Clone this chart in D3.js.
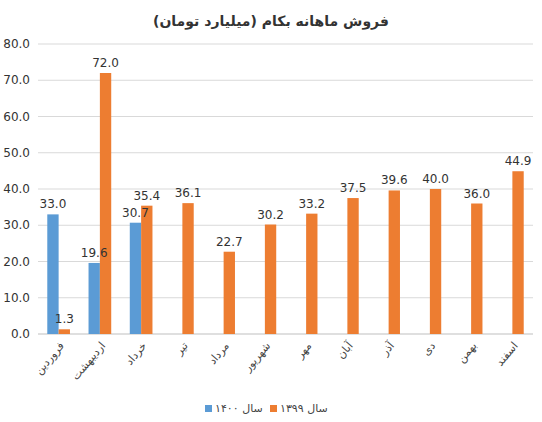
<!DOCTYPE html>
<html><head><meta charset="utf-8">
<script src="https://cdn.jsdelivr.net/npm/d3@7"></script>
<style>body{margin:0;background:#fff}text{font-family:"DejaVu Sans",sans-serif}</style>
</head><body><svg id="chart"></svg>
<script>
// Data
const months = ["فروردین","اردیبهشت","خرداد","تیر","مرداد","شهریور","مهر","آبان","آذر","دی","بهمن","اسفند"];
const sales1400 = [33.0, 19.6, 30.7, null, null, null, null, null, null, null, null, null];
const sales1399 = [1.3, 72.0, 35.4, 36.1, 22.7, 30.2, 33.2, 37.5, 39.6, 40.0, 36.0, 44.9];
const yTicks = [0,10,20,30,40,50,60,70,80];

const width = 542, height = 422;
const margin = {top: 44, right: 9, bottom: 88, left: 38};
const blue = "#5b9bd5", orange = "#ed7d31";

const svg = d3.select("#chart").attr("width", width).attr("height", height);

const x0 = d3.scaleBand().domain(months)
    .range([margin.left, width - margin.right]).paddingInner(0.45).paddingOuter(0.225);
const x1 = d3.scaleBand().domain(["1400","1399"]).range([0, x0.bandwidth()]);
const y = d3.scaleLinear().domain([0, 80]).range([height - margin.bottom, margin.top]);

// Title
svg.append("text").attr("x", width/2).attr("y", 26).attr("text-anchor","middle")
    .style("font-size","14px").style("font-weight","bold").attr("fill","#333")
    .text("فروش ماهانه بکام (میلیارد تومان)");

// Grid
svg.append("g").selectAll("line").data(yTicks).join("line")
    .attr("x1", margin.left).attr("x2", width - margin.right)
    .attr("y1", d => y(d)).attr("y2", d => y(d))
    .attr("stroke", d => d === 0 ? "#bfbfbf" : "#d9d9d9");

svg.append("g").selectAll("text").data(yTicks).join("text")
    .attr("x", margin.left - 8).attr("y", d => y(d) + 4).attr("text-anchor","end")
    .style("font-size","12px").attr("fill","#333").text(d => d.toFixed(1));

// Bars, then value labels on top
const series = [{key:"1400", vals: sales1400, color: blue}, {key:"1399", vals: sales1399, color: orange}];
const barLayer = svg.append("g"), labelLayer = svg.append("g");
series.forEach(s => {
    months.forEach((m, i) => {
        const v = s.vals[i];
        if (v == null) return;
        const bx = x0(m) + x1(s.key);
        barLayer.append("rect").attr("x", bx).attr("width", x1.bandwidth())
            .attr("y", y(v)).attr("height", y(0) - y(v)).attr("fill", s.color);
        labelLayer.append("text").attr("x", bx + x1.bandwidth()/2).attr("y", y(v) - 6)
            .attr("text-anchor","middle").style("font-size","12px").attr("fill","#333")
            .text(v.toFixed(1));
    });
});

// Category labels
svg.append("g").selectAll("text").data(months).join("text")
    .attr("transform", d => `translate(${x0(d) + x0.bandwidth()/2 + 6},${y(0) + 12}) rotate(-50)`)
    .attr("text-anchor","end").style("font-size","11px").attr("fill","#444")
    .text(d => d);

// Legend
const legend = [{label:"سال ۱۴۰۰", color: blue, x: 205}, {label:"سال ۱۳۹۹", color: orange, x: 270}];
legend.forEach(l => {
    svg.append("rect").attr("x", l.x).attr("y", 405).attr("width", 7).attr("height", 7).attr("fill", l.color);
    svg.append("text").attr("x", l.x + 10).attr("y", 412).style("font-size","11px").attr("fill","#444")
        .attr("direction","ltr").text(l.label);
});
</script></body></html>
